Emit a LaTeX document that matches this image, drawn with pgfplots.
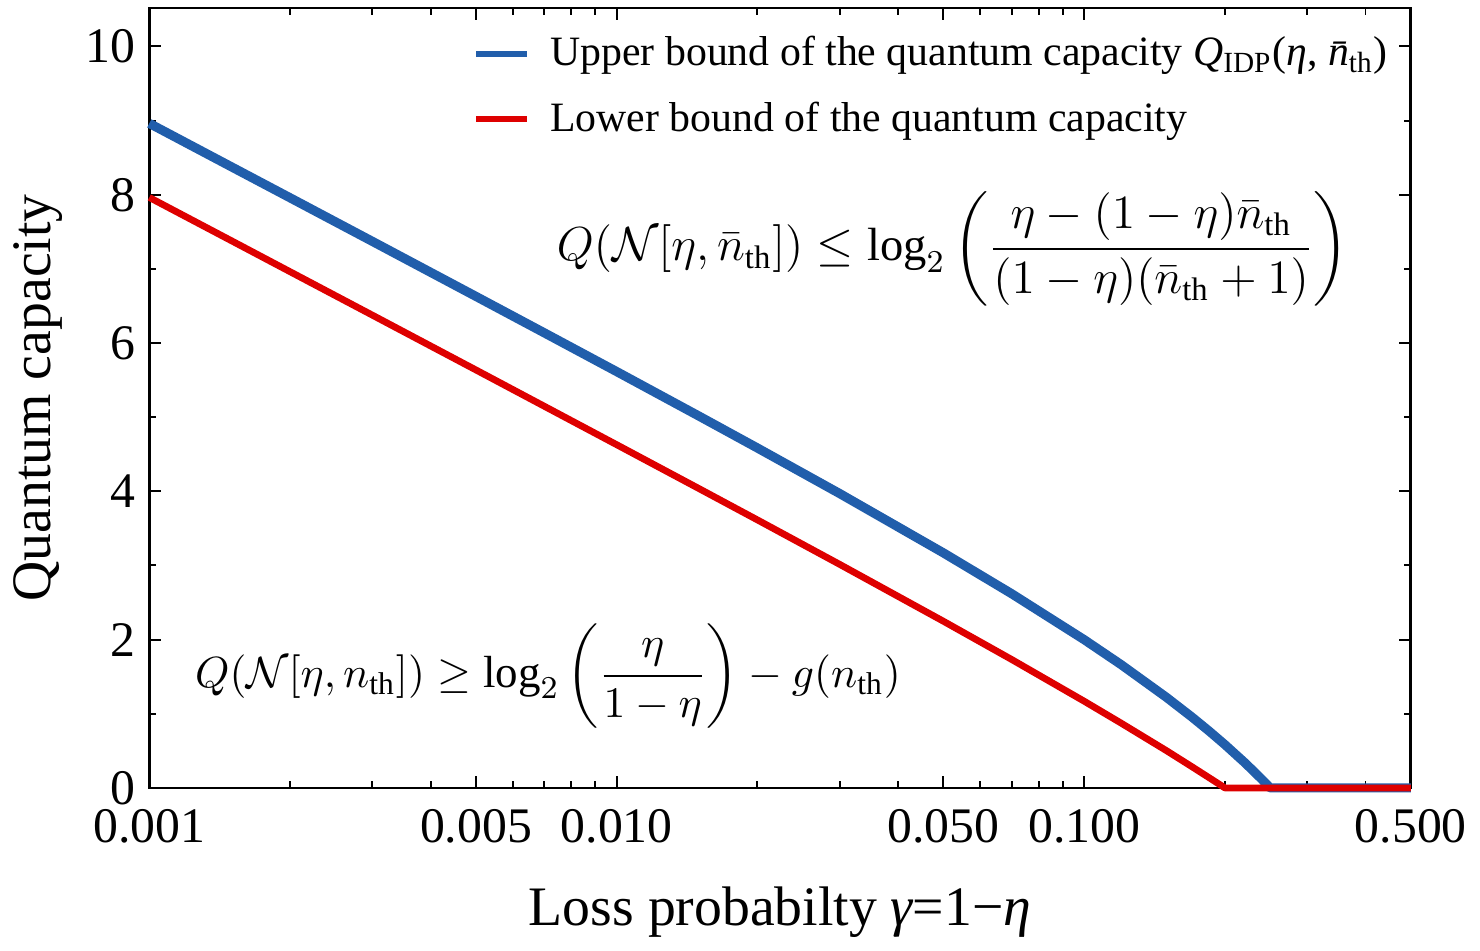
\documentclass[border=0pt]{standalone}
\usepackage{fontspec}
\setmainfont{Liberation Serif}
\usepackage{amsmath}
\usepackage{pgfplots}
\pgfplotsset{compat=1.18}

\definecolor{upperblue}{RGB}{33,94,171}
\definecolor{lowerred}{RGB}{222,0,0}

% upper bound Q_IDP, nth = 1
\pgfplotstableread{
g       q
0.001   8.963
0.0015  8.376
0.002   7.960
0.003   7.372
0.005   6.629
0.007   6.138
0.01    5.615
0.015   5.015
0.02    4.585
0.03    3.970
0.05    3.170
0.07    2.619
0.1     2.000
0.12    1.663
0.15    1.222
0.17    0.957
0.185   0.768
0.2     0.585
0.22    0.348
0.23    0.231
0.24    0.116
0.245   0.058
0.25    0.000
0.3     0.000
0.4     0.000
0.5     0.000
}\upperdata

% lower bound
\pgfplotstableread{
g       q
0.001   7.964
0.0015  7.379
0.002   6.963
0.003   6.377
0.005   5.637
0.007   5.148
0.01    4.629
0.015   4.037
0.02    3.615
0.03    3.015
0.05    2.248
0.07    1.732
0.1     1.170
0.12    0.874
0.15    0.503
0.17    0.287
0.185   0.139
0.19    0.092
0.195   0.046
0.2     0.000
0.3     0.000
0.4     0.000
0.5     0.000
}\lowerdata

\begin{document}
\begin{tikzpicture}
\begin{axis}[
    scale only axis,
    width=317pt, height=196pt,
    xmode=log,
    xmin=0.001, xmax=0.5,
    ymin=0, ymax=10.52,
    xtick={0.001,0.005,0.01,0.05,0.1,0.5},
    xticklabels={0.001,0.005,0.010,0.050,0.100,0.500},
    minor xtick={0.002,0.003,0.004,0.006,0.007,0.008,0.009,0.02,0.03,0.04,0.06,0.07,0.08,0.09,0.2,0.3,0.4},
    ytick={0,2,4,6,8,10},
    minor y tick num=1,
    tick align=inside,
    major tick length=3pt,
    minor tick length=1.8pt,
    every tick/.style={black, line width=0.5pt},
    axis line style={line width=0.7pt},
    ticklabel style={font=\fontsize{12.5}{14}\selectfont},
    /pgf/number format/assume math mode=true,
    xticklabel style={yshift=-2pt},
    xlabel={Loss probabilty {\itshape γ}=1−{\itshape η}},
    ylabel={Quantum capacity},
    label style={font=\fontsize{14}{16}\selectfont},
    xlabel style={yshift=-4pt},
    ylabel style={yshift=-1pt},
    legend style={
        at={(0.998,0.985)}, anchor=north east,
        draw=none, fill=none,
        font=\fontsize{10.5}{13}\selectfont,
        row sep=3.5pt,
        cells={anchor=west},
    },
    legend image post style={line width=1.6pt},
    legend image code/.code={\draw[#1] (0cm,0cm) -- (0.45cm,0cm);},
    clip=false,
]
\addplot[color=upperblue, line width=2.3pt, line join=round] table[x=g, y=q] {\upperdata};
\addlegendentry{\hspace{3pt}Upper bound of the quantum capacity {\itshape Q}\textsubscript{IDP}({\itshape η}, {\itshape \=n}\textsubscript{th})}
\addplot[color=lowerred, line width=1.7pt, line join=round] table[x=g, y=q] {\lowerdata};
\addlegendentry{\hspace{3pt}Lower bound of the quantum capacity}

\node[font=\fontsize{11.7}{13}\selectfont] at (rel axis cs:0.637,0.691)
    {$\displaystyle Q(\mathcal{N}[\eta,\bar{n}_{\mathrm{th}}]) \leq \log_2\left(\frac{\eta-(1-\eta)\bar{n}_{\mathrm{th}}}{(1-\eta)(\bar{n}_{\mathrm{th}}+1)}\right)$};
\node[font=\fontsize{11.3}{13}\selectfont] at (rel axis cs:0.316,0.143)
    {$\displaystyle Q(\mathcal{N}[\eta,n_{\mathrm{th}}]) \geq \log_2\left(\frac{\eta}{1-\eta}\right) - g(n_{\mathrm{th}})$};
% a little room above the frame, as in the reference
\path (rel axis cs:0,1) -- ++(0,2pt);
\end{axis}
\end{tikzpicture}
\end{document}
